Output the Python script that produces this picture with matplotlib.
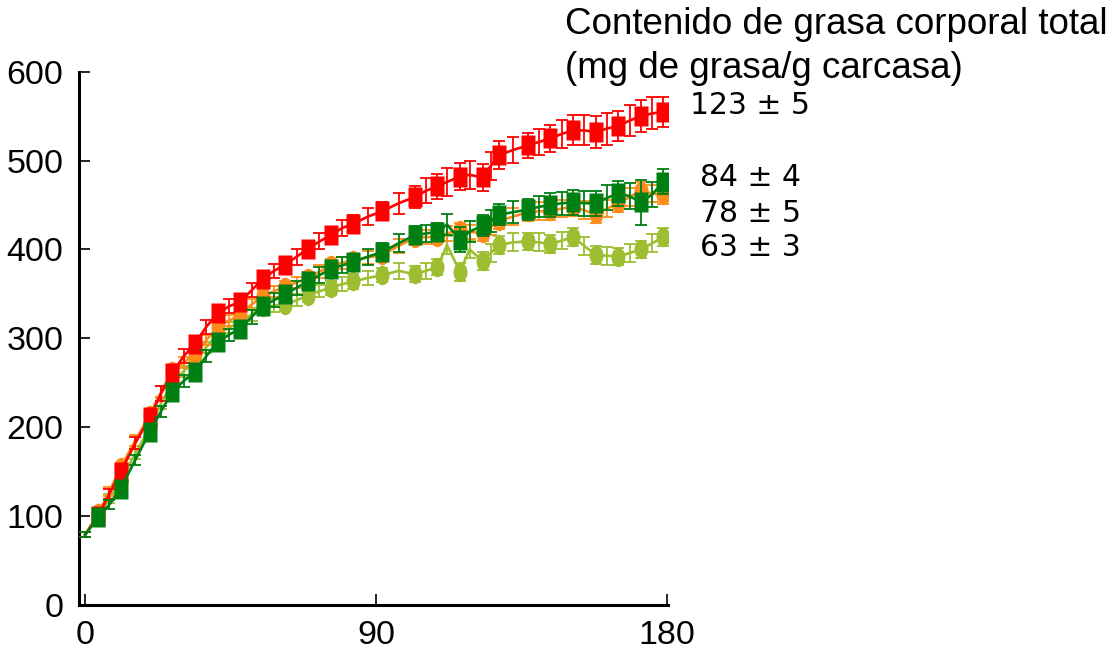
import matplotlib
matplotlib.use("Agg")
import matplotlib.pyplot as plt
from matplotlib.path import Path
from matplotlib import font_manager as fm

names = {f.name for f in fm.fontManager.ttflist}
narrow = 'Liberation Sans Narrow' if 'Liberation Sans Narrow' in names else 'Liberation Sans'

# ---- data ----
days = [0, 4, 7.5, 11, 15.5, 20, 23.5, 27, 30.5, 34, 37.5, 41, 44.5, 48, 51.5, 55,
        58.5, 62, 65.5, 69, 72.5, 76, 79.5, 83, 87.5, 92, 97, 102, 105.5, 109, 112, 116,
        119, 123, 125.5, 128, 132.5, 137, 140.5, 144, 147.5, 151, 154.5, 158, 161.5, 165,
        168.5, 172, 175.5, 179]

red = [79, 100, 125, 150, 182, 211, 238, 261, 280, 294,
       313, 328, 336, 341, 354, 367, 376, 383, 392, 401,
       409, 416, 424, 429, 437, 443, 452, 459, 466, 471,
       476, 482, 484, 481, 494, 506, 512, 517, 521, 525,
       530, 534, 534, 532, 536, 539, 545, 550, 553, 555]
orange = [79, 103, 128, 155, 185, 214, 240, 263, 273, 282,
          298, 313, 320, 326, 338, 348, 353, 358, 363, 368,
          375, 382, 385, 388, 391, 394, 404, 413, 414, 414,
          418, 422, 420, 418, 425, 432, 437, 442, 443, 443,
          446, 448, 444, 440, 446, 452, 459, 466, 463, 461]
yellow = [79, 100, 120, 140, 170, 200, 227, 250, 263, 275,
          290, 305, 312, 318, 327, 335, 337, 338, 343, 348,
          353, 357, 361, 364, 368, 371, 376, 372, 376, 380,
          405, 375, 400, 387, 396, 405, 408, 409, 408, 406,
          410, 414, 404, 394, 393, 392, 396, 400, 407, 414]
green = [79, 99, 113, 131, 163, 195, 218, 240, 252, 262,
         280, 296, 304, 311, 324, 336, 343, 350, 357, 364,
         371, 378, 382, 386, 392, 397, 407, 416, 418, 420,
         428, 411, 420, 427, 432, 439, 442, 445, 448, 450,
         452, 453, 452, 452, 458, 463, 460, 453, 462, 476]

red_err = [3, 5, 6, 6, 7, 7, 8, 8, 8, 8, 8, 8, 8, 8, 8, 8, 8, 8, 9, 9,
           9, 9, 9, 10, 10, 10, 12, 12, 14, 14, 16, 15, 16, 15, 16, 16, 15, 14, 15, 15,
           16, 17, 17, 18, 18, 17, 17, 18, 18, 17]
orange_err = [3, 5, 5, 5, 6, 6, 6, 6, 6, 6, 6, 6, 6, 6, 6, 6, 6, 6, 6, 7,
              7, 7, 7, 7, 7, 7, 8, 8, 8, 8, 8, 8, 8, 8, 9, 9, 10, 10, 10, 10,
              10, 10, 10, 10, 10, 10, 10, 10, 10, 10]
yellow_err = [3, 4, 5, 5, 6, 6, 6, 6, 6, 6, 6, 6, 6, 7, 7, 7, 7, 7, 7, 7,
              7, 8, 8, 8, 8, 8, 9, 9, 9, 9, 10, 10, 10, 10, 10, 10, 10, 10, 10, 10,
              10, 10, 10, 10, 10, 10, 10, 10, 10, 10]
green_err = [3, 4, 5, 5, 6, 6, 6, 6, 7, 7, 7, 7, 7, 7, 8, 8, 8, 8, 8, 8,
             9, 9, 9, 9, 9, 10, 10, 10, 10, 10, 12, 14, 12, 12, 12, 12, 12, 12, 12, 13,
             13, 14, 14, 14, 14, 14, 15, 25, 14, 14]

labels = ["123 \u00b1 5", "84 \u00b1 4", "78 \u00b1 5", "63 \u00b1 3"]
title_lines = ["Contenido de grasa corporal total", "(mg de grasa/g carcasa)"]
xticks = [0, 90, 180]
yticks = [0, 100, 200, 300, 400, 500, 600]

# ---- markers (taller than wide) ----
rect = Path([(-0.36, -0.5), (0.36, -0.5), (0.36, 0.5), (-0.36, 0.5), (-0.36, -0.5)],
            [Path.MOVETO, Path.LINETO, Path.LINETO, Path.LINETO, Path.CLOSEPOLY])
circ = Path.unit_circle()
ell = Path(circ.vertices * [0.72, 1.0], circ.codes)

W, H = 1117, 652
fig = plt.figure(figsize=(W / 100, H / 100), dpi=100)
ax = fig.add_axes([78.7 / W, 1 - 605 / H, 589 / W, 533.3 / H])

series = [
    (yellow, yellow_err, '#9cbe30', ell, 2),
    (orange, orange_err, '#ff8c1a', ell, 3),
    (red, red_err, '#ff0000', rect, 4),
    (green, green_err, '#007f12', rect, 5),
]
for vals, err, c, m, z in series:
    ax.errorbar(days, vals, yerr=err, fmt='none', ecolor=c, elinewidth=1.3,
                capsize=4, capthick=1.3, zorder=z)
    ax.plot(days, vals, color=c, lw=1.9, marker=m, markevery=slice(1, None, 2),
            ms=14, mec='none', mfc=c, zorder=z + 0.5)

ax.set_xlim(-2, 180.3)
ax.set_ylim(0, 600)
ax.set_xticks(xticks)
ax.set_yticks(yticks)
ax.spines['top'].set_visible(False)
ax.spines['right'].set_visible(False)
for s in ('left', 'bottom'):
    ax.spines[s].set_linewidth(2.2)
ax.tick_params(direction='in', length=8, width=1.2, labelsize=24.5, pad=11)
for lab in ax.get_xticklabels() + ax.get_yticklabels():
    lab.set_family(narrow)

fig.text(565 / W, 1 - 25 / H, title_lines[0], family='Liberation Sans', fontsize=26.5,
         va='center', ha='left')
fig.text(565 / W, 1 - 69 / H, title_lines[1], family='Liberation Sans', fontsize=26.5,
         va='center', ha='left')
ys = [105, 178, 214, 248]
xs = [690, 700, 700, 700]
for t, x, y in zip(labels, xs, ys):
    fig.text(x / W, 1 - y / H, t, family='DejaVu Sans', fontsize=21.5, va='center', ha='left')

fig.savefig('out.png', dpi=100)
